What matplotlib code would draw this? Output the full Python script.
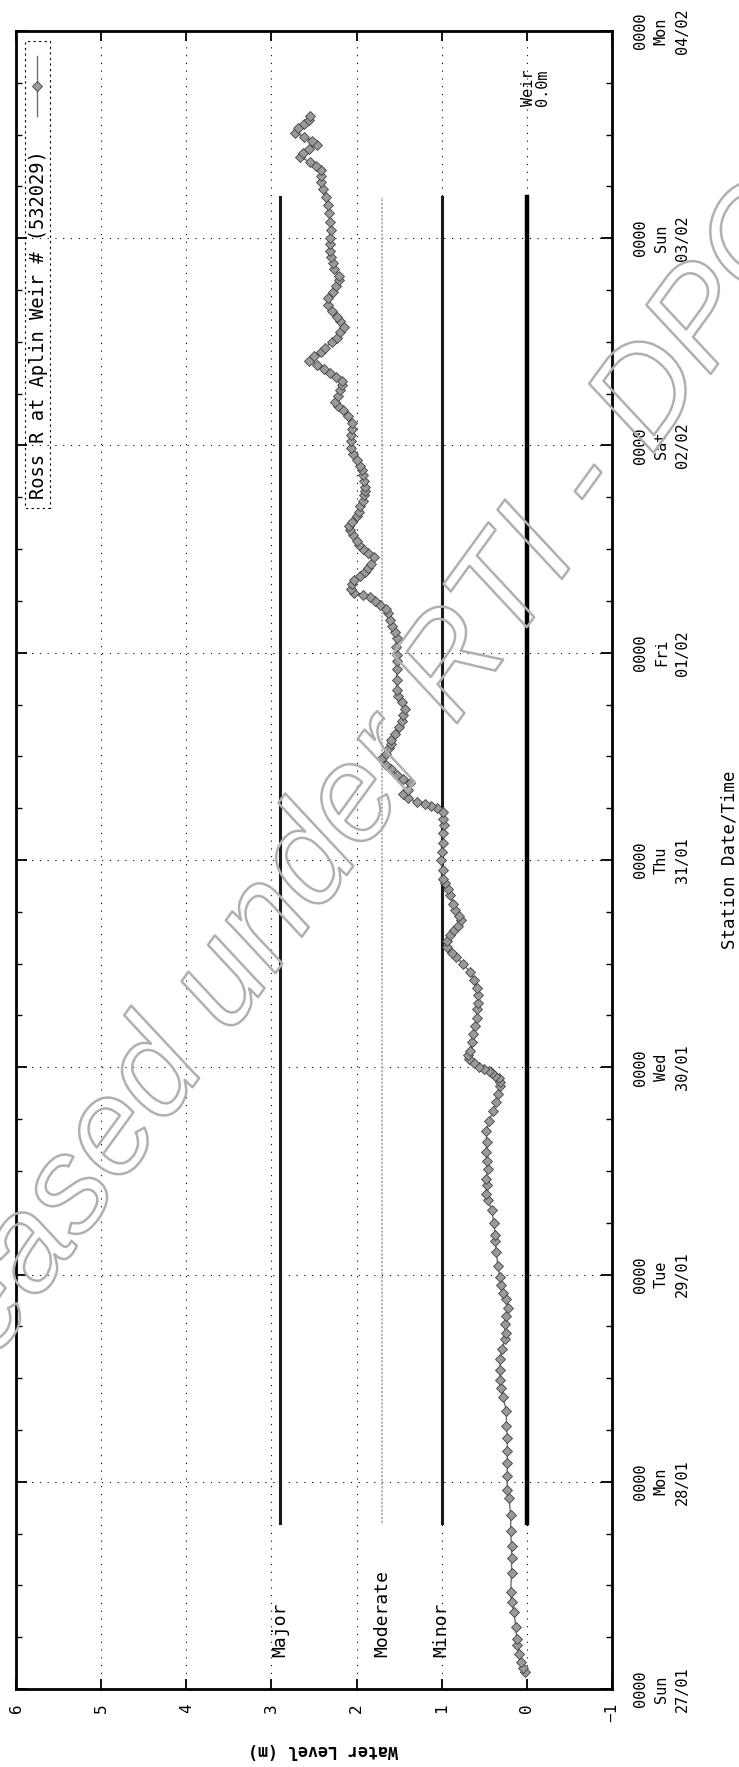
import matplotlib
matplotlib.use("Agg")
import matplotlib.pyplot as plt
import matplotlib.patheffects as pe
from matplotlib.patches import Rectangle

# water level at Aplin Weir, time in days after 27/01 0000
t_days = [0.08, 0.10, 0.13, 0.17, 0.21, 0.24, 0.30, 0.37, 0.42, 0.47, 0.56, 0.63, 0.69, 0.76, 0.84,
          0.92, 0.96, 1.03, 1.09, 1.15, 1.21, 1.27, 1.34, 1.41, 1.45, 1.49, 1.54, 1.59, 1.64, 1.69,
          1.72, 1.76, 1.80, 1.84, 1.88, 1.91, 1.95, 1.99, 2.04, 2.11, 2.16, 2.19, 2.25, 2.31, 2.36,
          2.39, 2.43, 2.46, 2.51, 2.55, 2.59, 2.64, 2.69, 2.74, 2.79, 2.83, 2.87, 2.91, 2.93, 2.95,
          2.96, 2.97, 2.98, 2.99, 3.00, 3.02, 3.04, 3.06, 3.08, 3.12, 3.16, 3.20, 3.24, 3.28, 3.31,
          3.35, 3.38, 3.42, 3.46, 3.50, 3.53, 3.55, 3.58, 3.61, 3.64, 3.66, 3.68, 3.71, 3.73, 3.76,
          3.79, 3.83, 3.86, 3.89, 3.91, 3.95, 4.00, 4.04, 4.08, 4.13, 4.17, 4.20, 4.23, 4.25, 4.26,
          4.27, 4.28, 4.30, 4.32, 4.34, 4.37, 4.39, 4.41, 4.44, 4.46, 4.49, 4.51, 4.54, 4.56, 4.58,
          4.61, 4.64, 4.67, 4.70, 4.73, 4.76, 4.79, 4.82, 4.87, 4.92, 4.96, 4.99, 5.03, 5.07, 5.10,
          5.13, 5.16, 5.19, 5.21, 5.23, 5.25, 5.27, 5.28, 5.29, 5.31, 5.33, 5.35, 5.37, 5.39, 5.41,
          5.43, 5.46, 5.48, 5.50, 5.52, 5.54, 5.57, 5.59, 5.61, 5.63, 5.66, 5.68, 5.71, 5.73, 5.76,
          5.78, 5.80, 5.83, 5.86, 5.88, 5.90, 5.93, 5.96, 5.99, 6.02, 6.05, 6.08, 6.11, 6.14, 6.17,
          6.19, 6.21, 6.24, 6.27, 6.29, 6.31, 6.33, 6.35, 6.37, 6.39, 6.41, 6.43, 6.45, 6.47, 6.50,
          6.52, 6.55, 6.57, 6.60, 6.62, 6.65, 6.68, 6.71, 6.74, 6.77, 6.80, 6.82, 6.85, 6.88, 6.91,
          6.94, 6.97, 7.00, 7.04, 7.08, 7.12, 7.16, 7.20, 7.24, 7.27, 7.30, 7.33, 7.35, 7.37, 7.39,
          7.41, 7.43, 7.45, 7.47, 7.49, 7.51, 7.53, 7.55, 7.57, 7.59]
level_m = [0.02, 0.04, 0.07, 0.09, 0.11, 0.12, 0.13, 0.15, 0.18, 0.19, 0.18, 0.18, 0.18, 0.19, 0.19,
           0.21, 0.23, 0.23, 0.23, 0.23, 0.23, 0.24, 0.24, 0.28, 0.30, 0.32, 0.31, 0.32, 0.29, 0.26,
           0.25, 0.26, 0.24, 0.22, 0.25, 0.28, 0.30, 0.32, 0.34, 0.36, 0.37, 0.37, 0.39, 0.41, 0.46,
           0.48, 0.47, 0.48, 0.46, 0.47, 0.48, 0.47, 0.48, 0.44, 0.40, 0.36, 0.34, 0.32, 0.32, 0.33,
           0.37, 0.41, 0.45, 0.50, 0.56, 0.62, 0.68, 0.69, 0.67, 0.65, 0.63, 0.61, 0.59, 0.58, 0.57,
           0.57, 0.58, 0.62, 0.67, 0.75, 0.83, 0.88, 0.94, 0.94, 0.90, 0.86, 0.81, 0.77, 0.80, 0.84,
           0.87, 0.90, 0.93, 0.96, 0.98, 0.99, 1.01, 1.00, 0.98, 0.98, 0.97, 0.98, 0.98, 1.05, 1.12,
           1.20, 1.29, 1.40, 1.45, 1.40, 1.37, 1.45, 1.53, 1.59, 1.65, 1.70, 1.66, 1.62, 1.60, 1.59,
           1.55, 1.50, 1.47, 1.45, 1.43, 1.47, 1.51, 1.53, 1.53, 1.53, 1.53, 1.53, 1.54, 1.53, 1.55,
           1.58, 1.61, 1.63, 1.66, 1.72, 1.78, 1.84, 1.93, 2.03, 2.06, 2.05, 2.03, 1.96, 1.90, 1.86,
           1.83, 1.80, 1.86, 1.93, 1.97, 2.00, 2.04, 2.08, 2.09, 2.05, 2.00, 1.97, 1.96, 1.93, 1.91,
           1.90, 1.90, 1.91, 1.93, 1.94, 1.96, 2.00, 2.04, 2.06, 2.07, 2.06, 2.05, 2.05, 2.10, 2.16,
           2.22, 2.25, 2.22, 2.19, 2.17, 2.17, 2.24, 2.31, 2.38, 2.46, 2.56, 2.50, 2.42, 2.37, 2.29,
           2.23, 2.19, 2.15, 2.19, 2.23, 2.29, 2.33, 2.33, 2.28, 2.24, 2.21, 2.21, 2.26, 2.28, 2.30,
           2.31, 2.31, 2.31, 2.30, 2.31, 2.32, 2.33, 2.36, 2.40, 2.42, 2.42, 2.42, 2.48, 2.55, 2.66,
           2.63, 2.56, 2.47, 2.52, 2.62, 2.72, 2.69, 2.62, 2.56, 2.55]

flood_names = ["Major", "Moderate", "Minor"]
flood_levels = [2.9, 1.7, 1.0]
weir_level = 0.0
line_from, line_to = 0.8, 7.2   # days

day_names = ["Sun", "Mon", "Tue", "Wed", "Thu", "Fri", "Sat", "Sun", "Mon"]
day_dates = ["27/01", "28/01", "29/01", "30/01", "31/01", "01/02", "02/02", "03/02", "04/02"]
level_ticks = [-1, 0, 1, 2, 3, 4, 5, 6]

plt.rcParams['font.family'] = ['DejaVu Sans Mono']

fig = plt.figure(figsize=(7.39, 17.67), dpi=100)
# chart is drawn turned on its side: level runs right->left, time bottom->top
ax = fig.add_axes([16 / 739, 1 - 1689 / 1767, 596 / 739, 1658 / 1767])
ax.set_xlim(6, -1)
ax.set_ylim(0, len(day_dates) - 1)

ax.set_xticks(level_ticks)
ax.set_yticks(range(len(day_dates)))
ax.set_yticks([d + q / 4 for d in range(len(day_dates) - 1) for q in (1, 2, 3)], minor=True)
ax.set_yticklabels(["0000\n%s\n%s" % (n, d) for n, d in zip(day_names, day_dates)])

ax.tick_params(axis='x', which='both', direction='in', bottom=True, top=True,
               labelrotation=90, labelsize=11.5, pad=10, length=7, width=1.3)
ax.tick_params(axis='y', which='major', direction='in', left=True, right=True,
               labelleft=False, labelright=True, labelrotation=90, labelsize=11,
               pad=15, length=8, width=1.3)
ax.tick_params(axis='y', which='minor', direction='in', left=True, right=True, length=4, width=1)
for lbl in ax.get_yticklabels():
    lbl.set_multialignment('center')
    lbl.set_verticalalignment('center')
    lbl.set_linespacing(1.5)

for sp in ax.spines.values():
    sp.set_linewidth(2)

ax.grid(True, which='major', color='black', linestyle=(0, (1, 6)), linewidth=0.8)

# flood class lines
for name, lev in zip(flood_names, flood_levels):
    if name == "Moderate":
        ax.plot([lev, lev], [line_from, line_to], color='#a0a0a0', lw=1.1, ls=(0, (1.5, 1)))
    else:
        ax.plot([lev, lev], [line_from, line_to], color='#1a1a1a', lw=2.2)
    ax.text(lev, 0.155, name, rotation=90, ha='center', va='bottom', fontsize=13)
ax.plot([weir_level, weir_level], [line_from, line_to], color='black', lw=3.2)
ax.text(weir_level - 0.1, 7.64, "Weir\n0.0m", rotation=90, ha='center', va='bottom',
        fontsize=11, linespacing=0.95, multialignment='left')

ax.plot(level_m, t_days, color='#707070', lw=1.0, marker='D', ms=5.0,
        mfc='#9a9a9a', mec='#404040', mew=0.6, zorder=3)

# legend box, written sideways at the top left
ax.add_patch(Rectangle((5.60, 5.70), 0.29, 2.25, fill=False, ec='black', lw=0.8,
                       ls=(0, (2, 3)), zorder=4))
ax.text(5.735, 5.74, "Ross R at Aplin Weir # (532029)", rotation=90, ha='center',
        va='bottom', fontsize=13.5, zorder=5)
ax.plot([5.75, 5.75], [7.59, 7.88], color='#707070', lw=1.0, zorder=5)
ax.plot([5.75], [7.735], color='#707070', marker='D', ms=5.0, mfc='#9a9a9a',
        mec='#404040', mew=0.6, zorder=5)

fig.text(323 / 739, 1 - 1750 / 1767, "Water Level (m)", rotation=180, ha='center',
         va='center', fontsize=12, fontweight='bold')
fig.text(730 / 739, 1 - 860 / 1767, "Station Date/Time", rotation=90, ha='center',
         va='center', fontsize=12.5)

# faint outlined watermark across the page
fig.text(318 / 739, 1 - 855 / 1767, "Released under RTI - DPC", rotation=54,
         rotation_mode='anchor', ha='center', va='center', fontsize=97, style='italic',
         family='Liberation Sans', color=(1, 1, 1, 0), zorder=10,
         path_effects=[pe.withStroke(linewidth=1.8, foreground='#b0b0b0')])

fig.savefig("out.png", dpi=100)
